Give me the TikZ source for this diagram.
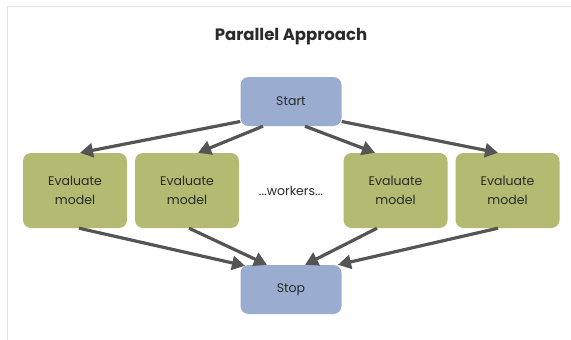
\documentclass[tikz,border=0pt]{standalone}
\usepackage{fontspec}
\setmainfont{Poppins}
\usetikzlibrary{arrows.meta,calc}
\definecolor{bluebox}{HTML}{9AADD0}
\definecolor{greenbox}{HTML}{B4BA72}
\definecolor{arrowc}{HTML}{555555}
\definecolor{textc}{HTML}{2A2A2A}
\definecolor{framec}{HTML}{E2E2E2}
\begin{document}
\begin{tikzpicture}[x=1pt,y=-1pt,
  endbox/.style={draw=none,fill=bluebox,rounded corners=8pt,minimum width=101pt,minimum height=49pt,inner sep=0pt,text=textc,font=\fontsize{12.5}{14}\selectfont},
  evalbox/.style={draw=none,fill=greenbox,rounded corners=8pt,minimum width=104pt,minimum height=75pt,inner sep=0pt,align=center,text=textc,font=\fontsize{12.5}{19}\selectfont},
  flow/.style={draw=arrowc,line width=3.2pt,-{Triangle[length=13pt,width=14pt]}}]
\useasboundingbox (0,0) rectangle (571,340);
\draw[framec,line width=1.5pt] (7.5,340) -- (7.5,6.5) -- (571,6.5);
\node[font=\bfseries\fontsize{16.5}{19}\selectfont,text=textc] (title) at (291,37) {Parallel Approach};
\node[endbox] (start) at (291,101.5) {Start};
\node[evalbox] (e1) at (75,190.5) {Evaluate\\model};
\node[evalbox] (e2) at (187,190.5) {Evaluate\\model};
\node[text=textc,font=\fontsize{12.5}{14}\selectfont] (workers) at (291,191) {...workers...};
\node[evalbox] (e3) at (395.5,190.5) {Evaluate\\model};
\node[evalbox] (e4) at (507.5,190.5) {Evaluate\\model};
\node[endbox] (stop) at (291,289.5) {Stop};
\draw[flow] ($(start.west)+(0,20)$) -- ($(e1.north)+(5,0)$);
\draw[flow] ($(start.south)+(-28,0)$) -- ($(e2.north)+(11,0)$);
\draw[flow] ($(start.south)+(14,0)$) -- ($(e3.north)+(-20.5,0)$);
\draw[flow] ($(start.east)+(0,20)$) -- ($(e4.north)+(-9.5,0)$);
\draw[flow] ($(e1.south)+(4,0)$) -- ($(stop.north)+(-46,1)$);
\draw[flow] ($(e2.south)+(2,0)$) -- ($(stop.north)+(-24,0)$);
\draw[flow] ($(e3.south)+(-18.5,0)$) -- ($(stop.north)+(14,0)$);
\draw[flow] ($(e4.south)+(-9.5,0)$) -- ($(stop.north)+(47,0)$);
\end{tikzpicture}
\end{document}
